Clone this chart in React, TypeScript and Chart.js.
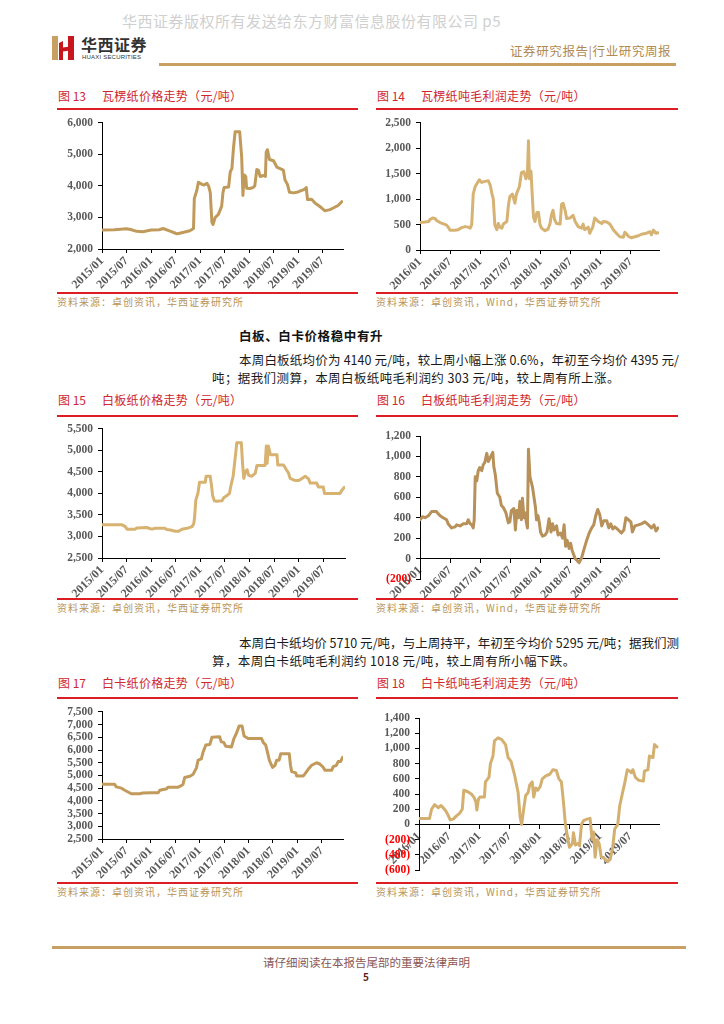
import React, { useEffect, useRef } from "react";
import { Chart, registerables } from "chart.js";

Chart.register(...registerables);

// ---------- tick labels ----------
const ticksFrom2015 = ["2015/01", "2015/07", "2016/01", "2016/07", "2017/01", "2017/07", "2018/01", "2018/07", "2019/01", "2019/07"];
const ticksFrom2016 = ["2016/01", "2016/07", "2017/01", "2017/07", "2018/01", "2018/07", "2019/01", "2019/07"];

// ---------- 图13 瓦楞纸价格 (months since 2015/01) ----------
const corrPriceMonth = [
  0, 3, 6, 7, 8.5, 10, 12, 14, 15, 16,
  17, 18, 18.3, 19, 20, 21.5, 22.4, 22.6, 23.2, 23.6,
  24.5, 25, 25.7, 26.1, 26.5, 26.9, 27.2, 27.7, 28.5, 29.3,
  29.6, 29.9, 31, 31.4, 31.8, 32.2, 32.6, 33.7, 34.2, 34.5,
  34.8, 35.2, 35.4, 36.2, 37, 37.4, 37.9, 38.3, 38.7, 39.5,
  40, 40.2, 40.5, 41, 42, 42.8, 43.6, 44.4, 44.8, 45.4,
  45.9, 46.9, 48, 48.9, 49.7, 50, 50.3, 51.3, 52.2, 53,
  53.8, 54.6, 55.8, 56.6, 57.8, 58.7,
];
const corrPrice = [
  2600, 2610, 2640, 2620, 2560, 2550, 2600, 2610, 2650, 2600,
  2550, 2500, 2480, 2500, 2530, 2580, 2650, 3600, 3850, 4120,
  4050, 4030, 4080, 4000, 3800, 2850, 2780, 3000, 3100, 3360,
  3780, 3950, 3970, 4450, 4550, 5220, 5720, 5720, 4910, 3700,
  4350, 4300, 3930, 3920, 3950, 4000, 4520, 4500, 4300, 4330,
  4300, 5070, 5150, 4840, 4800, 4600, 4550, 4500, 4190, 4050,
  3800, 3780, 3810, 3860, 3900, 3950, 3570, 3580, 3450, 3380,
  3300, 3210, 3250, 3300, 3380, 3500,
];

// ---------- 图14 瓦楞纸吨毛利润 (months since 2016/01) ----------
const corrProfitMonth = [
  0, 1, 1.7, 2, 2.5, 3, 3.3, 4, 4.8, 5.3,
  5.6, 6, 7, 7.6, 8.3, 9, 9.6, 10, 10.3, 10.6,
  11, 11.3, 11.8, 12.3, 12.9, 13.6, 14, 14.3, 14.6, 14.9,
  15.3, 15.6, 15.9, 16.3, 16.6, 17.3, 17.6, 17.9, 18.4, 18.9,
  19.2, 19.8, 20.2, 20.7, 21.1, 21.4, 21.6, 21.8, 22.1, 22.4,
  22.6, 22.9, 23.3, 23.6, 23.9, 24.2, 24.9, 25.5, 25.9, 26.2,
  26.5, 26.8, 27.2, 27.9, 28.2, 28.5, 28.9, 29.2, 29.9, 30.5,
  30.9, 31.5, 32.2, 32.5, 32.8, 33.5, 33.8, 34.4, 34.8, 35.5,
  36.2, 36.5, 37.2, 37.8, 38.5, 39.2, 39.8, 40.5, 40.8, 41.1,
  41.5, 42.1, 42.8, 43.5, 44.1, 45.1, 45.8, 46.1, 46.5, 47,
  47.4,
];
const corrProfit = [
  540, 550, 560, 600, 630, 620, 580, 540, 510, 490,
  450, 390, 390, 400, 440, 460, 450, 430, 500, 1100,
  1250, 1300, 1380, 1330, 1350, 1360, 1270, 1120, 1000, 500,
  400, 520, 450, 430, 510, 560, 870, 1050, 1100, 920,
  1100, 1250, 1520, 1540, 1400, 1500, 2150, 1400, 1550, 1000,
  650, 560, 740, 740, 500, 430, 380, 410, 520, 700,
  780, 600, 520, 510, 900, 920, 780, 620, 630, 680,
  560, 460, 430, 510, 400, 450, 330, 450, 630, 560,
  520, 560, 550, 510, 400, 320, 260, 250, 350, 320,
  270, 240, 260, 280, 310, 330, 360, 300, 390, 330,
  340,
];

// ---------- 图15 白板纸价格 (months since 2015/01) ----------
const boardPriceMonth = [
  0, 4.9, 5.7, 6.1, 8.1, 8.5, 11, 11.4, 12.2, 13,
  15.4, 15.8, 16.7, 17.9, 18.7, 19.5, 20.7, 21.1, 22, 22.4,
  22.6, 22.9, 23.4, 23.8, 25.2, 25.4, 26.4, 26.7, 27, 27.4,
  28, 29.3, 29.7, 30.5, 31.1, 31.5, 32, 32.3, 32.7, 32.9,
  34, 34.3, 34.6, 35, 35.4, 35.8, 36.6, 37.4, 37.8, 39.8,
  40.1, 40.3, 40.6, 41.1, 42.7, 42.9, 44.3, 45, 45.5, 45.9,
  47.2, 48, 48.8, 49.6, 50.4, 50.8, 52.4, 52.8, 54, 54.3,
  58.1, 58.5, 59.1,
];
const boardPrice = [
  3270, 3270, 3230, 3170, 3170, 3200, 3210, 3190, 3170, 3190,
  3190, 3160, 3150, 3120, 3120, 3170, 3190, 3200, 3230, 3300,
  3450, 3850, 4000, 4260, 4260, 4400, 4400, 4200, 3950, 3830,
  3820, 3830, 3900, 3950, 4000, 4200, 4400, 4650, 5000, 5180,
  5180, 4700, 4350, 4500, 4550, 4420, 4400, 4470, 4650, 4650,
  5100, 4700, 5100, 4900, 4900, 4660, 4660, 4550, 4480, 4350,
  4300, 4300, 4350, 4400, 4340, 4240, 4240, 4150, 4150, 4000,
  4000, 4070, 4140,
];

// ---------- 图16 白板纸吨毛利润 (months since 2016/01) ----------
const boardProfitMonth = [
  0, 0.5, 1, 1.7, 2, 2.3, 3.3, 3.6, 4, 4.6,
  5.3, 5.6, 6.3, 7, 7.3, 8, 8.6, 9.3, 9.6, 10,
  10.3, 10.6, 10.8, 11, 11.3, 11.6, 11.9, 12.3, 12.6, 12.9,
  13.3, 13.6, 14.1, 14.5, 14.7, 15, 15.4, 15.9, 16.2, 16.6,
  17.1, 17.6, 17.9, 18.2, 18.7, 19, 19.3, 19.6, 19.9, 20.2,
  20.4, 20.7, 20.9, 21.2, 21.4, 21.6, 21.9, 22.2, 22.4, 22.7,
  23, 23.2, 23.5, 23.8, 24, 24.4, 24.9, 25.3, 25.7, 26.1,
  26.4, 26.7, 27.2, 27.5, 28, 28.4, 28.7, 29, 29.3, 29.7,
  30, 30.3, 30.9, 31.3, 31.7, 32.2, 32.6, 33.2, 33.7, 34.2,
  34.6, 35, 35.4, 35.8, 36.2, 36.6, 37.2, 37.6, 38, 38.4,
  38.8, 39.5, 40.1, 40.6, 41, 41.5, 42, 42.3, 42.8, 43.5,
  44.1, 44.8, 45.5, 46.1, 46.6, 47, 47.4,
];
const boardProfit = [
  380, 410, 400, 420, 440, 460, 460, 440, 420, 400,
  380, 340, 300, 310, 330, 320, 340, 340, 380, 340,
  330, 300, 380, 800, 760, 860, 890, 860, 920, 940,
  1030, 950, 1000, 1040, 900, 820, 640, 600, 520, 500,
  450, 350, 360, 470, 490, 280, 470, 400, 560, 380,
  590, 400, 450, 350, 300, 1070, 800, 740, 700, 600,
  500, 380, 420, 340, 260, 220, 230, 260, 390, 260,
  340, 280, 320, 230, 250, 200, 330, 120, 180, 100,
  150, 80, 0, -20, -40, 10, 80, 180, 250, 300,
  330, 420, 480, 430, 320, 370, 370, 300, 340, 290,
  310, 280, 250, 280, 400, 380, 360, 260, 320, 330,
  340, 360, 330, 300, 330, 270, 300,
];

// ---------- 图17 白卡纸价格 (months since 2015/01) ----------
const cardPriceMonth = [
  0, 3.1, 3.5, 4.8, 5.6, 6.4, 7.2, 9.3, 10, 12.1,
  13.8, 14.2, 15, 15.8, 16.2, 18.7, 19.5, 19.9, 20.3, 21.6,
  22.4, 23.2, 23.6, 24.4, 24.8, 25.5, 26.5, 27, 28.9, 29.3,
  29.9, 30.4, 31.8, 32.4, 33, 33.7, 34.4, 34.9, 35.9, 39.2,
  39.6, 40.2, 40.6, 41.1, 41.5, 41.9, 42.5, 42.9, 43.5, 43.9,
  46, 46.3, 46.6, 47.6, 47.8, 49.4, 49.8, 50.7, 51.5, 52.7,
  53.5, 54.2, 54.8, 56.4, 56.8, 57.6, 58, 58.6, 59.1,
];
const cardPrice = [
  4650, 4650, 4550, 4500, 4420, 4350, 4280, 4280, 4310, 4320,
  4320, 4420, 4450, 4470, 4540, 4540, 4600, 4650, 4920, 4970,
  5050, 5300, 5600, 5650, 5900, 6200, 6220, 6500, 6520, 6320,
  6300, 6150, 6120, 6450, 6650, 6950, 6950, 6550, 6450, 6450,
  6300, 6200, 5950, 5600, 5450, 5320, 5400, 5600, 5600, 5850,
  5850, 5400, 5150, 5100, 4980, 4980, 5050, 5250, 5400, 5500,
  5450, 5350, 5200, 5200, 5350, 5400, 5550, 5550, 5710,
];

// ---------- 图18 白卡纸吨毛利润 (months since 2016/01) ----------
const cardProfitMonth = [
  0, 2.1, 2.5, 3.1, 3.8, 4.4, 4.8, 5.3, 5.8, 6.2,
  6.8, 7.4, 8.1, 8.6, 8.9, 9.7, 10.4, 10.9, 11.3, 11.5,
  11.8, 12.1, 13, 13.2, 13.9, 14.2, 14.7, 15, 15.7, 16.4,
  17.2, 17.7, 18.3, 19, 19.7, 20.1, 20.4, 20.8, 21.2, 21.7,
  22, 22.5, 22.8, 23.2, 23.6, 24.1, 24.5, 25.2, 26, 26.6,
  27.3, 27.8, 28.3, 28.7, 29.1, 29.6, 29.9, 30.5, 30.7, 31.1,
  31.6, 31.9, 32.3, 32.7, 33.4, 34, 34.4, 34.7, 35, 35.4,
  35.8, 36.2, 36.9, 37.5, 38, 38.5, 38.9, 39.5, 39.9, 40.4,
  40.9, 41.4, 41.9, 42.2, 42.5, 43, 43.7, 44.6, 44.8, 45.5,
  45.8, 46.5, 46.8, 47.3,
];
const cardProfit = [
  80, 80, 200, 260, 220, 250, 220, 180, 120, 60,
  70, 110, 150, 200, 450, 430, 400, 360, 300, 190,
  330, 360, 360, 560, 620, 800, 900, 1100, 1140, 1120,
  1050, 880, 830, 650, 420, 100, 0, 200, 380, 420,
  520, 560, 360, 480, 450, 500, 600, 640, 660, 720,
  710, 600, 560, 300, 0, -200, -300, -250, -110, -270,
  -250, -280, 0, 50, 70, 80, -200, -100, -430, -200,
  -250, -420, -450, -490, -460, -300, -60, 0, 250, 400,
  550, 720, 700, 680, 720, 620, 580, 570, 700, 720,
  900, 880, 1050, 1020,
];

// ---------- chart component ----------
type Box = { left: number; top: number; width: number; height: number };
type Plot = { left: number; top: number; right: number; bottom: number };

const TICK_FONT = "'Liberation Serif', 'Times New Roman', serif";

function fmtY(v: number): string {
  const s = Math.abs(v).toLocaleString("en-US");
  return v < 0 ? `(${s})` : s;
}

function LineChart(props: {
  xs: number[];
  ys: number[];
  xLabels: string[];
  xMax: number;
  yMin: number;
  yMax: number;
  yStep: number;
  color: string;
  box: Box;
  plot: Plot;
  zeroAxis?: boolean;
}) {
  const ref = useRef<HTMLCanvasElement>(null);
  const { box } = props;
  useEffect(() => {
    const { xs, ys, xLabels, xMax, yMin, yMax, yStep, color, box, plot, zeroAxis } = props;
    const yAxisWidth = plot.left - box.left;
    const padTop = plot.top - box.top;
    const padRight = box.left + box.width - plot.right;
    const bottomSpace = box.top + box.height - plot.bottom;
    const chart = new Chart(ref.current as HTMLCanvasElement, {
      type: "line",
      data: {
        datasets: [
          {
            data: xs.map((x, i) => ({ x, y: ys[i] })),
            borderColor: color,
            borderWidth: 3,
            pointRadius: 0,
            fill: false,
            tension: 0,
            borderJoinStyle: "round",
            borderCapStyle: "round",
          },
        ],
      },
      options: {
        animation: false,
        responsive: false,
        devicePixelRatio: 1,
        layout: { padding: { top: padTop, right: padRight, bottom: zeroAxis ? bottomSpace : 0, left: 0 } },
        plugins: { legend: { display: false }, tooltip: { enabled: false } },
        scales: {
          x: {
            type: "linear",
            position: zeroAxis ? { y: 0 } : "bottom",
            min: 0,
            max: xMax,
            afterBuildTicks: (s: any) => {
              s.ticks = xLabels.map((_, i) => ({ value: i * 6 }));
            },
            afterFit: (s: any) => {
              if (!zeroAxis) s.height = bottomSpace;
            },
            ticks: {
              autoSkip: false,
              minRotation: 45,
              maxRotation: 45,
              color: "#595959",
              padding: 1,
              font: { family: TICK_FONT, size: 12, weight: "bold" },
              callback: (_v: any, i: number) => xLabels[i],
            },
            grid: { drawOnChartArea: false, drawTicks: true, tickLength: 4, color: "#000" },
            border: { display: true, color: "#000", width: 1 },
          },
          y: {
            type: "linear",
            min: yMin,
            max: yMax,
            afterFit: (s: any) => {
              s.width = yAxisWidth;
            },
            ticks: {
              stepSize: yStep,
              autoSkip: false,
              padding: 5,
              color: (c: any) => (c.tick && c.tick.value < 0 ? "#ff0000" : "#595959"),
              font: { family: TICK_FONT, size: 11.5, weight: "bold" },
              callback: (v: any) => fmtY(Number(v)),
            },
            grid: { drawOnChartArea: false, drawTicks: true, tickLength: 4, color: "#000" },
            border: { display: true, color: "#000", width: 1 },
          },
        },
      } as any,
    });
    return () => chart.destroy();
  }, []);
  return (
    <canvas
      ref={ref}
      width={box.width}
      height={box.height}
      style={{ position: "absolute", left: box.left, top: box.top, width: box.width, height: box.height }}
    />
  );
}

// ---------- page helpers ----------
const CJK = "'Noto Sans CJK SC', 'Noto Sans', sans-serif";
const RED_RULE = "#dc1e24";
const TITLE_RED = "#cf2630";
const GOLD_TEXT = "#b8955a";

function Text(props: { left: number; cy: number; size: number; color: string; children: any; style?: any }) {
  const lh = Math.round(props.size * 1.4);
  return (
    <div
      style={{
        position: "absolute",
        left: props.left,
        top: props.cy - lh / 2,
        height: lh,
        lineHeight: `${lh}px`,
        fontSize: props.size,
        color: props.color,
        fontFamily: CJK,
        whiteSpace: "nowrap",
        ...(props.style || {}),
      }}
    >
      {props.children}
    </div>
  );
}

function Rule(props: { left: number; top: number; width: number; height: number; color: string }) {
  return (
    <div
      style={{
        position: "absolute",
        left: props.left,
        top: props.top,
        width: props.width,
        height: props.height,
        background: props.color,
      }}
    />
  );
}

function Figure(props: {
  num: string;
  title: string;
  source: string;
  left: number;
  titleCy: number;
  ruleTop: number;
  bottomRule: number;
  width: number;
}) {
  const { num, title, source, left, titleCy, ruleTop, bottomRule, width } = props;
  return (
    <>
      <Text left={left + 1} cy={titleCy} size={12} color={TITLE_RED}>
        {num}
      </Text>
      <Text left={left + 45} cy={titleCy} size={12} color={TITLE_RED} style={{ letterSpacing: "0.3px" }}>
        {title}
      </Text>
      <Rule left={left} top={ruleTop} width={width} height={2} color={RED_RULE} />
      <Rule left={left} top={bottomRule} width={width} height={2} color={RED_RULE} />
      <Text left={left} cy={bottomRule + 10} size={10} color={GOLD_TEXT} style={{ letterSpacing: "1px" }}>
        {source}
      </Text>
    </>
  );
}

function JustLine(props: { left: number; cy: number; width: number; text: string }) {
  return (
    <div
      lang="zh-CN"
      style={{
        position: "absolute",
        left: props.left,
        top: props.cy - 9,
        width: props.width,
        height: 18,
        lineHeight: "18px",
        fontSize: 12.5,
        fontFamily: CJK,
        color: "#1a1a1a",
        textAlign: "justify",
        textAlignLast: "justify",
        overflow: "visible",
      }}
    >
      {props.text}
    </div>
  );
}

export default function App() {
  const SRC_A = "资料来源：卓创资讯，华西证券研究所";
  const SRC_B = "资料来源：卓创资讯，Wind，华西证券研究所";
  return (
    <div
      style={{
        position: "absolute",
        left: 0,
        top: 0,
        width: 724,
        height: 1024,
        background: "#fff",
        overflow: "hidden",
      }}
    >
      {/* header */}
      <Text left={122} cy={20} size={15} color="#cfcfcf" style={{ letterSpacing: "0.5px" }}>
        华西证券版权所有发送给东方财富信息股份有限公司 p5
      </Text>
      <svg width={22} height={24} style={{ position: "absolute", left: 52, top: 36 }}>
        <polygon points="0,0 6,0 6,24 0,24" fill="#c9a064" />
        <polygon points="7,7 11,5 11,24 7,24" fill="#c8161d" />
        <polygon points="16,0 22,0 22,24 16,24" fill="#c8161d" />
        <polygon points="7,12 22,10 22,14 7,16" fill="#c8161d" />
      </svg>
      <Text left={81} cy={44} size={16} color="#333" style={{ fontWeight: 700, letterSpacing: "0.5px" }}>
        华西证券
      </Text>
      <Text left={82} cy={56.5} size={6} color="#333" style={{ fontFamily: "'Liberation Sans', sans-serif", letterSpacing: "0.2px" }}>
        HUAXI SECURITIES
      </Text>
      <Text left={510} cy={51} size={12.5} color="#b08a50" style={{ letterSpacing: "0.6px" }}>
        证券研究报告|行业研究周报
      </Text>
      <Rule left={159} top={63} width={517} height={3} color="#c9a064" />

      {/* row 1 */}
      <Figure num="图 13" title="瓦楞纸价格走势（元/吨）" source={SRC_A} left={57} titleCy={95} ruleTop={108} bottomRule={292} width={301} />
      <Figure num="图 14" title="瓦楞纸吨毛利润走势（元/吨）" source={SRC_B} left={376} titleCy={95} ruleTop={108} bottomRule={292} width={302} />
      <LineChart
        xs={corrPriceMonth}
        ys={corrPrice}
        xLabels={ticksFrom2015}
        xMax={59}
        yMin={2000}
        yMax={6000}
        yStep={1000}
        color="#c09a5b"
        box={{ left: 57, top: 111, width: 301, height: 181 }}
        plot={{ left: 102, top: 120, right: 343, bottom: 249 }}
      />
      <LineChart
        xs={corrProfitMonth}
        ys={corrProfit}
        xLabels={ticksFrom2016}
        xMax={47.6}
        yMin={0}
        yMax={2500}
        yStep={500}
        color="#d6b273"
        box={{ left: 376, top: 111, width: 302, height: 181 }}
        plot={{ left: 420, top: 117, right: 659, bottom: 250 }}
      />

      {/* text block 1 */}
      <Text left={239} cy={336} size={12.5} color="#111" style={{ fontWeight: 700, letterSpacing: "0.6px" }}>
        白板、白卡价格稳中有升
      </Text>
      <JustLine left={239} cy={360} width={440} text="本周白板纸均价为 4140 元/吨，较上周小幅上涨 0.6%，年初至今均价 4395 元/" />
      <Text left={212} cy={378} size={12.5} color="#1a1a1a" style={{ letterSpacing: "0.4px" }}>
        吨；据我们测算，本周白板纸吨毛利润约 303 元/吨，较上周有所上涨。
      </Text>

      {/* row 2 */}
      <Figure num="图 15" title="白板纸价格走势（元/吨）" source={SRC_A} left={57} titleCy={399} ruleTop={415} bottomRule={598} width={301} />
      <Figure num="图 16" title="白板纸吨毛利润走势（元/吨）" source={SRC_B} left={376} titleCy={399} ruleTop={415} bottomRule={598} width={302} />
      <LineChart
        xs={boardPriceMonth}
        ys={boardPrice}
        xLabels={ticksFrom2015}
        xMax={59.3}
        yMin={2500}
        yMax={5500}
        yStep={500}
        color="#d7b271"
        box={{ left: 57, top: 417, width: 301, height: 181 }}
        plot={{ left: 102, top: 423, right: 345, bottom: 558 }}
      />
      <LineChart
        xs={boardProfitMonth}
        ys={boardProfit}
        xLabels={ticksFrom2016}
        xMax={47.6}
        yMin={-200}
        yMax={1200}
        yStep={200}
        color="#b8915a"
        zeroAxis
        box={{ left: 376, top: 417, width: 302, height: 181 }}
        plot={{ left: 420, top: 436, right: 659, bottom: 579 }}
      />

      {/* text block 2 */}
      <JustLine left={239} cy={643} width={440} text="本周白卡纸均价 5710 元/吨，与上周持平，年初至今均价 5295 元/吨；据我们测" />
      <Text left={212} cy={661} size={12.5} color="#1a1a1a" style={{ letterSpacing: "0.4px" }}>
        算，本周白卡纸吨毛利润约 1018 元/吨，较上周有所小幅下跌。
      </Text>

      {/* row 3 */}
      <Figure num="图 17" title="白卡纸价格走势（元/吨）" source={SRC_A} left={57} titleCy={682} ruleTop={697} bottomRule={882} width={301} />
      <Figure num="图 18" title="白卡纸吨毛利润走势（元/吨）" source={SRC_B} left={376} titleCy={682} ruleTop={697} bottomRule={882} width={302} />
      <LineChart
        xs={cardPriceMonth}
        ys={cardPrice}
        xLabels={ticksFrom2015}
        xMax={59.2}
        yMin={2500}
        yMax={7500}
        yStep={500}
        color="#c29a5c"
        box={{ left: 57, top: 700, width: 301, height: 182 }}
        plot={{ left: 102, top: 705, right: 343, bottom: 839 }}
      />
      <LineChart
        xs={cardProfitMonth}
        ys={cardProfit}
        xLabels={ticksFrom2016}
        xMax={47.7}
        yMin={-600}
        yMax={1400}
        yStep={200}
        color="#d4b070"
        zeroAxis
        box={{ left: 376, top: 700, width: 302, height: 182 }}
        plot={{ left: 419, top: 718, right: 659, bottom: 875 }}
      />

      {/* footer */}
      <Rule left={52} top={946} width={634} height={3} color="#c9a064" />
      <Text left={263} cy={962} size={11.5} color="#8a5656">
        请仔细阅读在本报告尾部的重要法律声明
      </Text>
      <Text left={363} cy={977} size={10} color="#5a1e1e" style={{ fontWeight: 700 }}>
        5
      </Text>
    </div>
  );
}
